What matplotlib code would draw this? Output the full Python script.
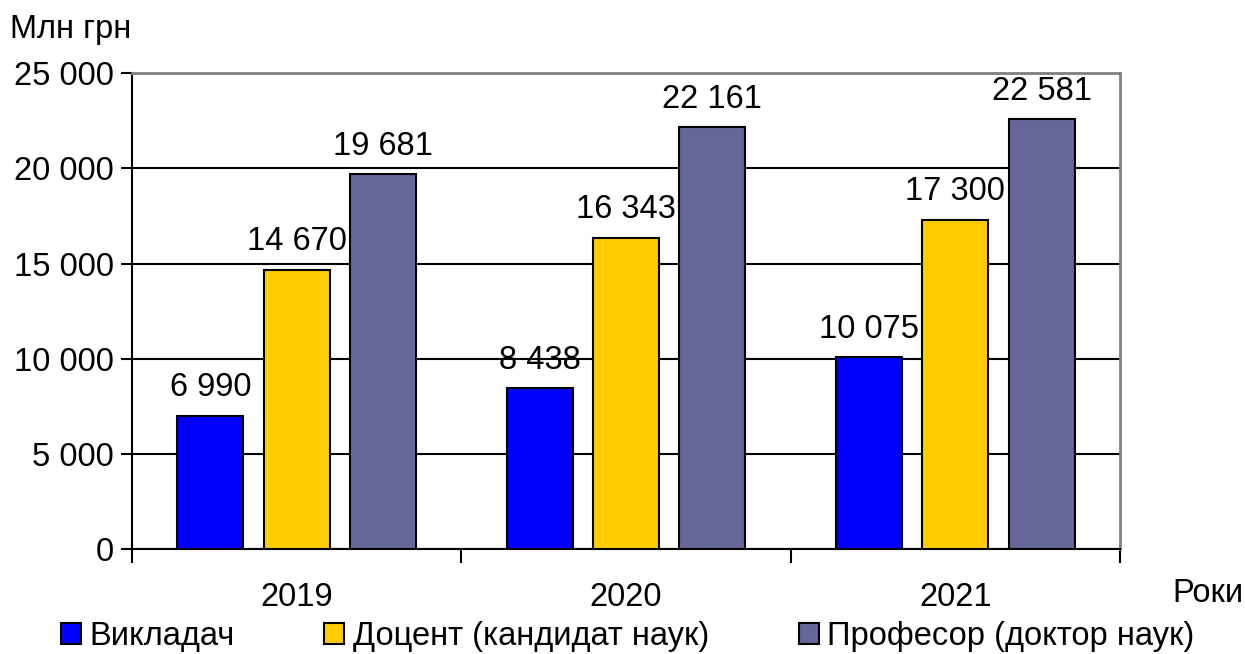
import numpy as np
from matplotlib import pyplot as plt
from matplotlib.patches import Patch

years = ["2019", "2020", "2021"]
series = ["Викладач", "Доцент (кандидат наук)", "Професор (доктор наук)"]
vykladach = [6990, 8438, 10075]
dotsent = [14670, 16343, 17300]
profesor = [19681, 22161, 22581]
colors = ["#0000FF", "#FFCC00", "#666699"]
yticks = [0, 5000, 10000, 15000, 20000, 25000]

plt.rcParams['font.family'] = ['Liberation Sans', 'DejaVu Sans']
fs = 23.5

fig = plt.figure(figsize=(12.45, 6.54), dpi=100)
ax = fig.add_axes([0.106, 0.1606, 0.7936, 0.7274])

x = np.arange(len(years))
w = 0.2
step = 0.262
for i, (vals, c) in enumerate(zip([vykladach, dotsent, profesor], colors)):
    bars = ax.bar(x + (i - 1) * step, vals, w, color=c, edgecolor="black",
                  linewidth=1.5, zorder=3)
    labels = [f"{v:,}".replace(",", " ") for v in vals]
    ax.bar_label(bars, labels=labels, padding=9, fontsize=fs)

ax.set_xlim(-0.5, 2.5)
ax.set_ylim(0, 25000)
ax.set_yticks(yticks)
ax.set_yticklabels([f"{v:,}".replace(",", " ") for v in yticks], fontsize=fs)
ax.yaxis.grid(True, color="black", linewidth=1.5, zorder=0)

ax.set_xticks([-0.5, 0.5, 1.5, 2.5])
ax.set_xticklabels([])
ax.set_xticks(x, minor=True)
ax.set_xticklabels(years, minor=True, fontsize=fs)
ax.tick_params(axis="x", which="major", length=10, width=1.5)
ax.tick_params(axis="x", which="minor", length=0, pad=24)
ax.tick_params(axis="y", length=8, width=1.5, pad=5)

for s in ["left", "bottom"]:
    ax.spines[s].set_linewidth(1.5)
    ax.spines[s].set_color("black")
for s in ["top", "right"]:
    ax.spines[s].set_linewidth(2)
    ax.spines[s].set_color("#808080")

fig.text(0.008, 0.955, "Млн грн", fontsize=fs, va="center", ha="left")
fig.text(0.999, 0.092, "Роки", fontsize=fs, va="center", ha="right")

handles = [Patch(facecolor=c, edgecolor="black", linewidth=1.5) for c in colors]
fig.legend(handles, series, loc="center", bbox_to_anchor=(0.504, 0.027),
           ncol=3, frameon=False, fontsize=fs, handlelength=0.62,
           handleheight=0.62, handletextpad=0.25, columnspacing=2.75,
           borderaxespad=0, borderpad=0)

fig.savefig("out.png", dpi=100)
